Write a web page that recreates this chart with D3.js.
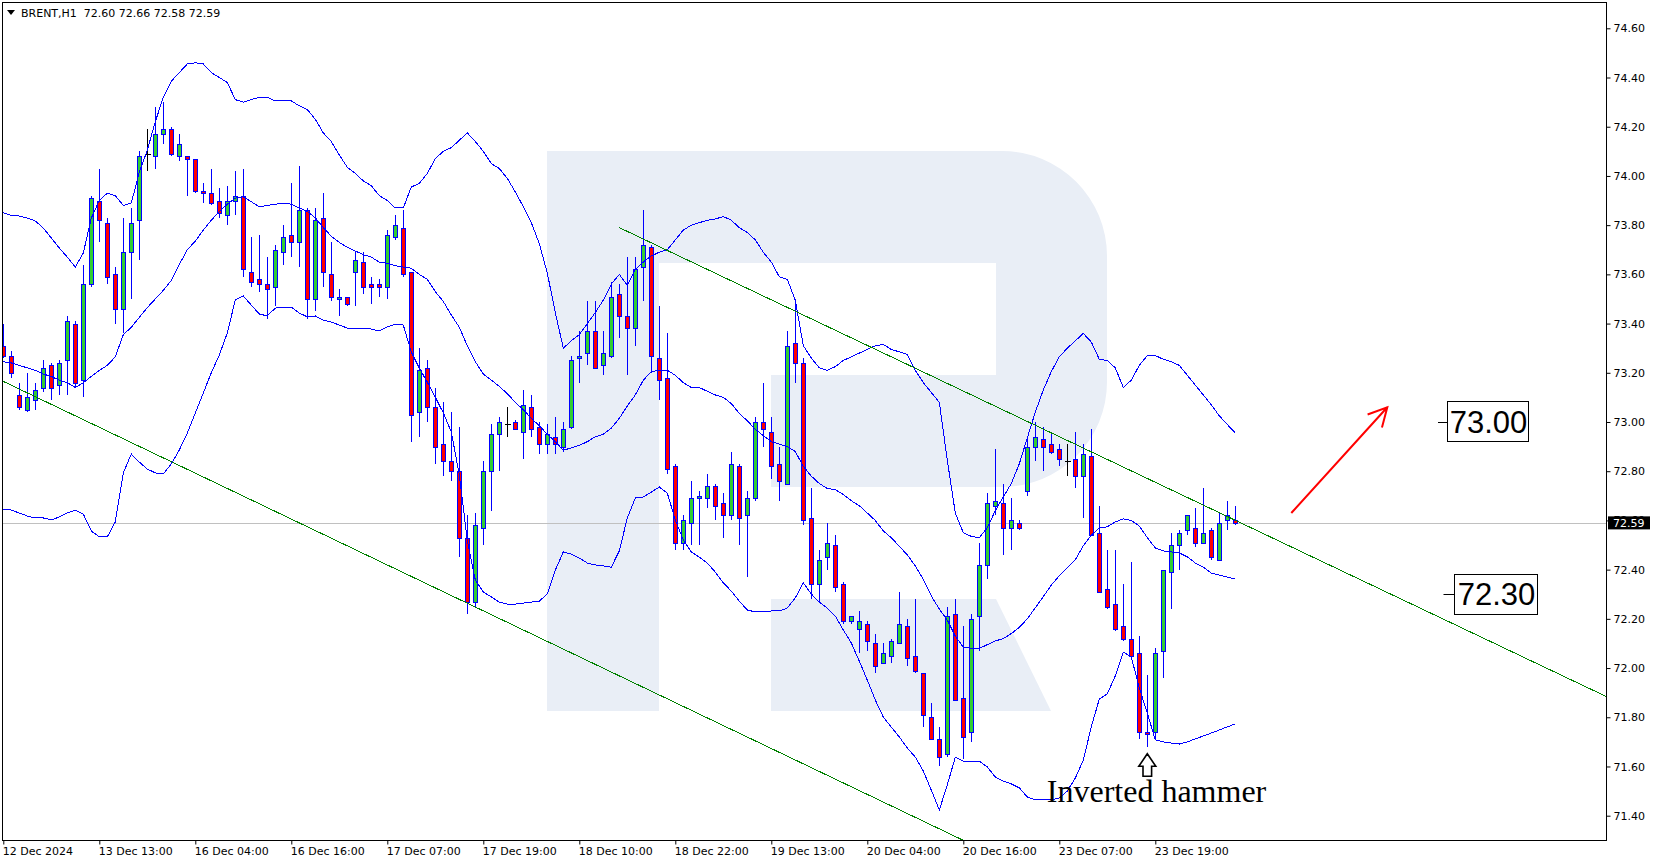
<!DOCTYPE html>
<html><head><meta charset="utf-8">
<script src="https://cdn.jsdelivr.net/npm/d3@7"></script>
<style>html,body{margin:0;padding:0;background:#fff;overflow:hidden}svg{display:block}</style>
</head><body>
<svg id="c" width="1656" height="864"></svg>
<script>
// ---------------- DATA ----------------
const symbolName = "BRENT,H1";
const headerOHLC = [72.60, 72.66, 72.58, 72.59];
const timeLabels = ["12 Dec 2024","13 Dec 13:00","16 Dec 04:00","16 Dec 16:00","17 Dec 07:00","17 Dec 19:00","18 Dec 10:00","18 Dec 22:00","19 Dec 13:00","20 Dec 04:00","20 Dec 16:00","23 Dec 07:00","23 Dec 19:00"];
const timeLabelBars = [0,12,24,36,48,60,72,84,96,108,120,132,144];
const priceTicks = [71.40,71.60,71.80,72.00,72.20,72.40,72.60,72.80,73.00,73.20,73.40,73.60,73.80,74.00,74.20,74.40,74.60];
const lastPrice = 72.59;

const open = [73.31,73.27,73.11,73.05,73.09,73.14,73.23,73.15,73.25,73.40,73.17,73.56,73.90,73.81,73.60,73.46,73.69,73.82,74.09,74.08,
74.17,74.19,74.08,74.08,74.07,73.94,73.93,73.90,73.84,73.90,73.92,73.61,73.58,73.56,73.55,73.69,73.76,73.73,73.86,73.50,
73.83,73.60,73.50,73.51,73.61,73.65,73.56,73.56,73.55,73.75,73.79,73.61,73.04,73.22,73.06,72.91,72.84,72.80,72.53,72.27,
72.57,72.80,72.95,72.99,73.00,72.96,73.06,72.98,72.91,72.94,72.90,72.98,73.26,73.28,73.37,73.23,73.27,73.52,73.43,73.38,
73.63,73.71,73.26,73.18,72.82,72.51,72.59,72.69,72.69,72.74,72.67,72.62,72.82,72.62,72.69,73.00,72.96,72.83,72.75,73.32,
73.24,72.61,72.34,72.45,72.50,72.34,72.19,72.16,72.18,72.10,72.02,72.05,72.10,72.17,72.05,71.98,71.80,71.71,71.65,72.22,
71.88,71.74,72.21,72.42,72.66,72.67,72.57,72.59,72.72,72.90,72.93,72.91,72.89,72.84,72.85,72.78,72.86,72.55,72.32,72.26,
72.17,72.12,72.06,71.74,71.74,72.07,72.39,72.50,72.56,72.57,72.51,72.56,72.44,72.60,72.60];
const high = [73.40,73.29,73.16,73.20,73.16,73.25,73.24,73.25,73.43,73.41,73.64,73.92,74.03,73.83,73.63,73.83,73.87,74.10,74.19,74.28,
74.30,74.20,74.17,74.08,74.07,73.97,74.03,73.95,73.96,74.02,74.03,73.75,73.76,73.67,73.72,73.80,73.97,74.04,73.87,73.87,
73.93,73.73,73.54,73.51,73.69,73.69,73.59,73.58,73.78,73.84,73.86,73.61,73.30,73.25,73.14,73.08,73.04,72.98,72.62,72.63,
72.84,72.99,73.02,73.06,73.01,73.13,73.11,73.00,72.99,73.02,73.00,73.27,73.37,73.49,73.49,73.37,73.57,73.56,73.67,73.67,
73.86,73.72,73.47,73.36,72.83,72.62,72.76,72.72,72.79,72.75,72.71,72.88,72.83,72.72,73.02,73.16,73.02,72.90,73.37,73.48,
73.26,72.73,72.48,72.59,72.54,72.35,72.21,72.23,72.19,72.14,72.10,72.12,72.31,72.20,72.28,71.98,71.86,71.76,72.25,72.28,
72.17,72.22,72.51,72.71,72.89,72.75,72.69,72.60,72.94,73.00,72.98,72.96,72.91,72.91,72.96,72.91,72.97,72.66,72.48,72.48,
72.34,72.43,72.13,71.97,72.08,72.40,72.55,72.56,72.62,72.65,72.73,72.57,72.63,72.68,72.66];
const low = [73.26,73.18,73.05,73.04,73.05,73.12,73.09,73.11,73.11,73.14,73.10,73.55,73.73,73.56,73.40,73.36,73.50,73.66,74.02,74.03,
74.13,74.08,74.06,73.92,73.93,73.89,73.88,73.83,73.80,73.84,73.59,73.55,73.53,73.42,73.47,73.64,73.67,73.63,73.42,73.45,
73.55,73.49,73.43,73.47,73.47,73.52,73.48,73.51,73.50,73.74,73.59,72.92,72.94,73.00,72.83,72.78,72.76,72.45,72.22,72.25,
72.50,72.64,72.80,72.94,72.97,72.85,72.94,72.87,72.87,72.87,72.88,72.97,73.16,73.23,73.22,73.19,73.26,73.34,73.19,73.31,
73.49,73.20,73.09,72.79,72.48,72.48,72.50,72.50,72.65,72.60,72.53,72.60,72.50,72.37,72.68,72.90,72.77,72.68,72.75,73.16,
72.58,72.28,72.27,72.40,72.31,72.18,72.18,72.06,72.07,71.98,72.02,72.02,72.10,72.01,71.98,71.76,71.71,71.60,71.64,71.87,
71.63,71.70,72.07,72.36,72.62,72.46,72.48,72.56,72.70,72.84,72.80,72.87,72.82,72.78,72.73,72.61,72.54,72.31,72.24,72.15,
72.11,72.05,71.71,71.68,71.71,71.96,72.24,72.40,72.54,72.49,72.51,72.44,72.44,72.56,72.58];
const close = [73.27,73.20,73.06,73.10,73.13,73.22,73.14,73.24,73.41,73.16,73.56,73.91,73.82,73.59,73.46,73.69,73.81,74.08,74.09,74.17,
74.19,74.09,74.13,74.07,73.94,73.93,73.89,73.85,73.90,73.92,73.62,73.57,73.56,73.54,73.70,73.75,73.73,73.86,73.50,73.82,
73.61,73.51,73.51,73.48,73.66,73.55,73.55,73.55,73.76,73.80,73.60,73.03,73.21,73.06,72.90,72.84,72.80,72.53,72.27,72.58,
72.80,72.95,73.00,72.99,72.97,73.07,72.97,72.91,72.95,72.91,72.97,73.25,73.27,73.37,73.22,73.28,73.51,73.43,73.38,73.62,
73.72,73.27,73.17,72.81,72.51,72.60,72.69,72.70,72.74,72.66,72.62,72.83,72.61,72.69,73.00,72.97,72.82,72.76,73.31,73.24,
72.60,72.34,72.44,72.51,72.33,72.19,72.21,72.19,72.11,72.01,72.06,72.11,72.18,72.04,71.99,71.81,71.71,71.64,72.21,71.87,
71.72,72.20,72.42,72.67,72.68,72.57,72.60,72.57,72.90,72.94,72.90,72.88,72.85,72.84,72.78,72.87,72.54,72.31,72.25,72.16,
72.12,72.05,71.74,71.73,72.06,72.40,72.50,72.55,72.62,72.51,72.55,72.45,72.59,72.62,72.59];

const upperBand = [73.85,73.84,73.837,73.829,73.817,73.788,73.748,73.707,73.67,73.63,73.687,73.829,73.90,73.93,73.92,73.88,73.89,74.015,74.105,74.22,
74.32,74.385,74.42,74.455,74.46,74.455,74.42,74.40,74.38,74.31,74.30,74.31,74.32,74.32,74.305,74.305,74.305,74.285,74.27,74.23,
74.175,74.14,74.085,74.035,74.01,73.98,73.96,73.92,73.90,73.87,73.87,73.955,73.97,74.01,74.07,74.10,74.115,74.145,74.175,74.14,
74.10,74.05,74.03,73.99,73.935,73.875,73.81,73.725,73.605,73.445,73.30,73.33,73.355,73.40,73.445,73.495,73.56,73.60,73.555,73.62,
73.65,73.675,73.69,73.70,73.74,73.78,73.80,73.81,73.82,73.825,73.835,73.82,73.79,73.77,73.74,73.69,73.65,73.59,73.58,73.495,
73.31,73.26,73.22,73.21,73.225,73.25,73.265,73.28,73.295,73.31,73.315,73.295,73.285,73.275,73.21,73.16,73.12,73.08,72.845,72.63,
72.55,72.535,72.53,72.57,72.64,72.695,72.75,72.83,72.935,73.04,73.13,73.205,73.265,73.30,73.33,73.36,73.325,73.255,73.25,73.22,
73.14,73.17,73.23,73.27,73.27,73.255,73.245,73.23,73.19,73.15,73.11,73.07,73.025,72.99,72.955];
const middleBand = [73.245,73.24,73.23,73.22,73.21,73.195,73.185,73.17,73.16,73.14,73.16,73.185,73.21,73.23,73.265,73.355,73.385,73.425,73.465,73.50,
73.535,73.575,73.64,73.70,73.735,73.78,73.82,73.855,73.885,73.91,73.915,73.895,73.875,73.88,73.885,73.89,73.885,73.87,73.855,73.83,
73.79,73.755,73.73,73.71,73.695,73.68,73.67,73.65,73.645,73.635,73.63,73.625,73.60,73.58,73.53,73.49,73.435,73.385,73.31,73.245,
73.195,73.17,73.145,73.115,73.08,73.05,73.015,72.985,72.95,72.92,72.885,72.895,72.905,72.92,72.94,72.95,72.975,73.015,73.065,73.11,
73.17,73.205,73.21,73.21,73.19,73.16,73.14,73.14,73.125,73.11,73.10,73.075,73.035,73.005,72.97,72.945,72.92,72.91,72.90,72.88,
72.82,72.78,72.75,72.73,72.725,72.705,72.68,72.66,72.63,72.60,72.557,72.53,72.495,72.46,72.415,72.36,72.293,72.24,72.195,72.13,
72.085,72.08,72.08,72.095,72.11,72.12,72.14,72.165,72.20,72.245,72.29,72.337,72.375,72.407,72.44,72.497,72.54,72.57,72.574,72.594,
72.606,72.60,72.577,72.53,72.488,72.476,72.472,72.468,72.452,72.427,72.41,72.386,72.378,72.37,72.362];
const lowerBand = [72.646,72.642,72.63,72.618,72.61,72.61,72.602,72.614,72.63,72.642,72.626,72.557,72.533,72.533,72.594,72.793,72.87,72.837,72.809,72.793,
72.789,72.83,72.886,72.955,73.037,73.118,73.20,73.272,73.362,73.496,73.512,73.475,73.439,73.431,73.463,73.467,73.467,73.443,73.427,73.431,
73.414,73.406,73.394,73.382,73.382,73.382,73.378,73.37,73.386,73.398,73.394,73.284,73.219,73.162,73.101,73.037,72.96,72.785,72.52,72.358,
72.309,72.289,72.268,72.26,72.26,72.264,72.268,72.272,72.301,72.398,72.472,72.463,72.447,72.427,72.419,72.415,72.41,72.476,72.61,72.691,
72.695,72.715,72.736,72.711,72.602,72.52,72.472,72.451,72.427,72.39,72.346,72.313,72.272,72.236,72.228,72.228,72.232,72.232,72.244,72.285,
72.346,72.301,72.268,72.244,72.211,72.155,72.102,72.028,71.951,71.87,71.801,71.76,71.72,71.675,71.638,71.582,71.504,71.423,71.525,71.638,
71.622,71.622,71.622,71.598,71.557,71.541,71.529,71.513,71.476,71.464,71.464,71.464,71.472,71.50,71.553,71.626,71.761,71.874,71.895,71.968,
72.065,72.045,71.919,71.817,71.708,71.70,71.695,71.691,71.70,71.712,71.724,71.736,71.748,71.761,71.773];

const lowerChannel = [[0, 73.165], [120, 71.30]];
const upperChannel = [[77, 73.79], [200, 71.89]];
const targetArrow = [[161, 72.63], [173, 73.06]];
const levelLabels = ["73.00", "72.30"];
const levelValues = [73.00, 72.30];
const patternBar = 143;
const patternText = "Inverted hammer";

// ---------------- LAYOUT ----------------
const W = 1656, H = 864;
const L = 2, R = 1606, T = 2, B = 840;
const svg = d3.select("#c");
const xs = d3.scaleLinear().domain([-0.1625, 200.3375]).range([L, R]);
const ys = d3.scaleLinear().domain([71.3012, 74.7069]).range([B, T]);
const font = "'DejaVu Sans', Verdana, sans-serif";

svg.append("rect").attr("width", W).attr("height", H).attr("fill", "#fff");
svg.append("defs").append("clipPath").attr("id", "clip")
  .append("rect").attr("x", L).attr("y", T).attr("width", R - L).attr("height", B - T);

const plot = svg.append("g").attr("clip-path", "url(#clip)");

// watermark logo
const wm = plot.append("g").attr("fill", "#e9eef6");
wm.append("rect").attr("x", 547).attr("y", 151).attr("width", 112).attr("height", 560);
wm.append("path").attr("d",
  "M659,151 H1002 A105,105 0 0 1 1107,256 V382 A105,105 0 0 1 1002,487 H771 V375 H996 V263 H659 Z");
wm.append("path").attr("d", "M771,599 H996 L1051,711 H771 Z");

// current price line
plot.append("line").attr("x1", L).attr("x2", R)
  .attr("y1", Math.round(ys(lastPrice)) + 0.5).attr("y2", Math.round(ys(lastPrice)) + 0.5)
  .attr("stroke", "#c0c0c0").attr("stroke-width", 1);

// candles
const bars = d3.range(open.length);
const cx = i => Math.round(xs(i)) + 0.5;
const cg = plot.append("g").attr("shape-rendering", "crispEdges");
bars.forEach(i => {
  const o = open[i], c = close[i];
  const x = cx(i);
  if (o === c) {
    cg.append("line").attr("x1", x).attr("x2", x).attr("y1", ys(high[i])).attr("y2", ys(low[i])).attr("stroke", "#000");
    const yy = Math.round(ys(o)) + 0.5;
    cg.append("line").attr("x1", x - 3).attr("x2", x + 3).attr("y1", yy).attr("y2", yy).attr("stroke", "#000");
    return;
  }
  cg.append("line").attr("x1", x).attr("x2", x).attr("y1", ys(high[i])).attr("y2", ys(low[i]))
    .attr("stroke", "#0000ff").attr("stroke-width", 1);
  const yTop = Math.round(ys(Math.max(o, c))) + 0.5;
  const yBot = Math.round(ys(Math.min(o, c))) + 0.5;
  cg.append("rect").attr("x", x - 2).attr("y", yTop).attr("width", 4).attr("height", Math.max(1, yBot - yTop))
    .attr("fill", c > o ? "#32cd32" : "#ff0000").attr("stroke", "#0000ff").attr("stroke-width", 1);
});

// bollinger bands
const band = d3.line().x((d, i) => xs(i)).y(d => ys(d));
[upperBand, middleBand, lowerBand].forEach(arr => {
  plot.append("path").attr("d", band(arr)).attr("fill", "none").attr("stroke", "#0000ff")
    .attr("stroke-width", 1).attr("shape-rendering", "crispEdges");
});

// channel lines
const lineThrough = (pts, x0, x1) => {
  const [[a, pa], [b, pb]] = pts;
  const k = (pb - pa) / (b - a);
  return [[x0, pa + k * (x0 - a)], [x1, pa + k * (x1 - a)]];
};
const chan = d3.line().x(d => xs(d[0])).y(d => ys(d[1]));
plot.append("path").attr("d", chan(lineThrough(lowerChannel, -1, 140)))
  .attr("stroke", "#008000").attr("stroke-width", 1).attr("fill", "none").attr("shape-rendering", "crispEdges");
plot.append("path").attr("d", chan(lineThrough(upperChannel, upperChannel[0][0], 205)))
  .attr("stroke", "#008000").attr("stroke-width", 1).attr("fill", "none").attr("shape-rendering", "crispEdges");

// red target arrow
{
  const x0 = xs(targetArrow[0][0]), y0 = ys(targetArrow[0][1]);
  const x1 = xs(targetArrow[1][0]), y1 = ys(targetArrow[1][1]);
  const ang = Math.atan2(y0 - y1, x0 - x1);
  const len = 21, spread = 0.48;
  const p = `M${x0},${y0} L${x1},${y1} M${x1 + len * Math.cos(ang + spread)},${y1 + len * Math.sin(ang + spread)} L${x1},${y1} L${x1 + len * Math.cos(ang - spread)},${y1 + len * Math.sin(ang - spread)}`;
  plot.append("path").attr("d", p).attr("stroke", "#ff0000").attr("stroke-width", 2).attr("fill", "none");
}

// level labels
const boxes = [{x: 1447, w: 81, dash: 9}, {x: 1454, w: 83, dash: 10.5}];
levelValues.forEach((v, k) => {
  const yc = ys(v);
  const b = boxes[k];
  plot.append("line").attr("x1", b.x - b.dash).attr("x2", b.x).attr("y1", Math.round(yc) + 0.5).attr("y2", Math.round(yc) + 0.5)
    .attr("stroke", "#000").attr("stroke-width", 1);
  plot.append("rect").attr("x", b.x + 0.5).attr("y", Math.round(yc - 20.5) + 0.5).attr("width", b.w).attr("height", 40)
    .attr("fill", "#fff").attr("stroke", "#000").attr("stroke-width", 1);
  plot.append("text").attr("x", b.x + b.w / 2 + 1).attr("y", yc + 11)
    .attr("text-anchor", "middle").attr("font-family", "'Liberation Sans', Arial, sans-serif")
    .attr("font-size", 31).attr("fill", "#000").text(levelLabels[k]);
});

// pattern annotation
{
  const x = xs(patternBar);
  const yt = ys(low[patternBar]) + 7;
  const arrow = `M${x},${yt} L${x + 8.5},${yt + 12.5} H${x + 4.3} V${yt + 22.5} H${x - 4.3} V${yt + 12.5} H${x - 8.5} Z`;
  plot.append("path").attr("d", arrow).attr("fill", "#fff").attr("stroke", "#000").attr("stroke-width", 1.6);
  plot.append("text").attr("x", x - 100.5).attr("y", 802)
    .attr("font-family", "'Liberation Serif', 'Times New Roman', serif").attr("font-size", 32)
    .attr("fill", "#000").text(patternText);
}

// frame
svg.append("rect").attr("x", L + 0.5).attr("y", T + 0.5).attr("width", R - L).attr("height", B - T)
  .attr("fill", "none").attr("stroke", "#000").attr("stroke-width", 1);

// price axis
const yAxis = d3.axisRight(ys).tickValues(priceTicks).tickFormat(d3.format(".2f")).tickSize(4).tickPadding(3);
const ya = svg.append("g").attr("transform", `translate(${R + 0.5},0)`).call(yAxis);
ya.select(".domain").remove();
ya.selectAll("text").attr("font-family", font).attr("font-size", 11).attr("fill", "#000");
ya.selectAll("line").attr("stroke", "#000");

// current price tag
{
  const yc = ys(lastPrice);
  svg.append("rect").attr("x", R + 2).attr("y", yc - 6.5).attr("width", 42).attr("height", 13).attr("fill", "#000");
  svg.append("text").attr("x", R + 7).attr("y", yc + 4).attr("font-family", font).attr("font-size", 11)
    .attr("fill", "#fff").text(d3.format(".2f")(lastPrice));
}

// time axis
const xAxis = d3.axisBottom(xs).tickValues(timeLabelBars).tickFormat((d, i) => timeLabels[i]).tickSize(4).tickPadding(3);
const xa = svg.append("g").attr("transform", `translate(0,${B + 0.5})`).call(xAxis);
xa.select(".domain").remove();
xa.selectAll("text").attr("font-family", font).attr("font-size", 11).attr("fill", "#000")
  .attr("text-anchor", "start").attr("dx", "-0.1em");
xa.selectAll("line").attr("stroke", "#000");

// header
svg.append("path").attr("d", "M7,10 H15 L11,15 Z").attr("fill", "#000");
svg.append("text").attr("x", 21).attr("y", 16.5).attr("font-family", font).attr("font-size", 11).attr("fill", "#000")
  .attr("xml:space", "preserve").style("white-space", "pre")
  .text(symbolName + "  " + headerOHLC.map(d3.format(".2f")).join(" "));
</script>
</body></html>
